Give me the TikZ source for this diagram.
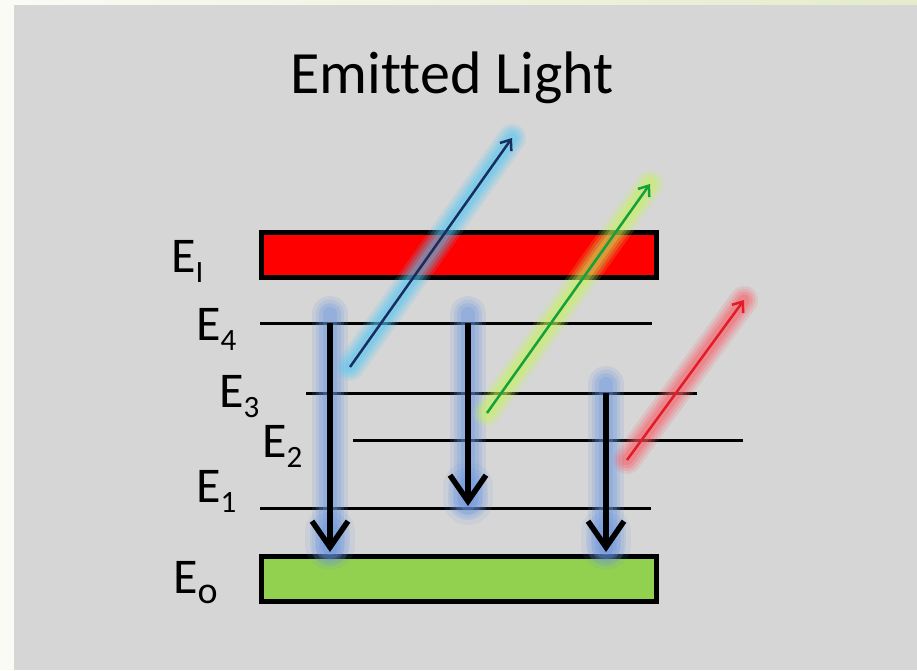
\documentclass[tikz,border=0pt]{standalone}
\usepackage{fontspec}
\setmainfont{Carlito}[Ligatures=NoCommon]
\usetikzlibrary{arrows.meta}
\definecolor{panel}{RGB}{214,214,214}
\definecolor{edgewhite}{RGB}{250,251,245}
\definecolor{edgegreen}{RGB}{228,236,204}
\definecolor{boxred}{RGB}{255,0,0}
\definecolor{boxgreen}{RGB}{146,208,80}
\definecolor{glowblue}{RGB}{105,150,225}
\definecolor{glowcyan}{RGB}{80,200,245}
\definecolor{glowlime}{RGB}{200,245,90}
\definecolor{glowpink}{RGB}{250,90,100}
\definecolor{rayblue}{RGB}{25,45,95}
\definecolor{raygreen}{RGB}{20,160,60}
\definecolor{rayred}{RGB}{225,30,40}
\newcommand\myglow[4]{%
  \foreach \f/\o in {1/0.14,0.8/0.18,0.6/0.22,0.4/0.26}{%
    \draw[#1, line width=\f*#2, opacity=#4*\o, line cap=round] #3;}}
\newcommand\lev[2]{{\fontsize{50}{50}\selectfont E}\raisebox{-#2pt}{\fontsize{31}{31}\selectfont #1}}
\begin{document}
\begin{tikzpicture}[x=1pt,y=-1pt,
  levelline/.style={line width=3pt, black},
  energybox/.style={line width=5pt, draw=black},
  decay/.style={line width=5.5pt, black, -{Straight Barb[length=26pt,width=36pt]}},
  ray/.style={line width=2.5pt, -{Straight Barb[length=9pt,width=14pt]}},
  lbl/.style={inner sep=0pt, anchor=base west}]
% background
\fill[edgewhite] (0,0) rectangle (917,670);
\shade[left color=edgewhite, right color=edgegreen] (0,0) rectangle (917,5);
\fill[panel] (14,5) rectangle (917,670);
\useasboundingbox (0,0) rectangle (917,670);
% title
\node[inner sep=0pt, anchor=base] (title) at (452,93) {\fontsize{60}{60}\selectfont Emitted Light};
% boxes
\node[energybox, fill=boxred, minimum width=395pt, minimum height=45pt, inner sep=0pt, anchor=north west] (EI) at (259,230) {};
\node[energybox, fill=boxgreen, minimum width=395pt, minimum height=45pt, inner sep=0pt, anchor=north west] (E0) at (259,554) {};
% level coordinates
\coordinate (e4l) at (260,323); \coordinate (e4r) at (652,323);
\coordinate (e3l) at (306,393); \coordinate (e3r) at (697,393);
\coordinate (e2l) at (353,440); \coordinate (e2r) at (743,440);
\coordinate (e1l) at (260,508); \coordinate (e1r) at (651,508);
\draw[levelline] (e4l) -- (e4r);
\draw[levelline] (e3l) -- (e3r);
\draw[levelline] (e2l) -- (e2r);
\draw[levelline] (e1l) -- (e1r);
% decay arrow coordinates
\coordinate (d1s) at (330,323); \coordinate (d1e) at (330,552);
\coordinate (d2s) at (468,323); \coordinate (d2e) at (468,506);
\coordinate (d3s) at (606,393); \coordinate (d3e) at (606,552);
% ray coordinates
\coordinate (b1s) at (350,367); \coordinate (b1e) at (512,138);
\coordinate (g1s) at (487,413); \coordinate (g1e) at (650,184);
\coordinate (r1s) at (627,460); \coordinate (r1e) at (744,300);
% glows
\myglow{glowblue}{36}{(330,314) -- (330,548)}{1}
\myglow{glowblue}{36}{(468,314) -- (468,500)}{1}
\myglow{glowblue}{36}{(606,384) -- (606,548)}{1}
\myglow{glowblue}{50}{(330,532) -- (330,545)}{0.8}
\myglow{glowblue}{50}{(468,487) -- (468,500)}{0.8}
\myglow{glowblue}{50}{(606,532) -- (606,545)}{0.8}
\myglow{glowcyan}{28}{(b1s) -- (b1e)}{1.1}
\myglow{glowlime}{28}{(g1s) -- (g1e)}{1.1}
\myglow{glowpink}{28}{(r1s) -- (r1e)}{1.1}
% decay arrows
\draw[decay] (d1s) -- (d1e);
\draw[decay] (d2s) -- (d2e);
\draw[decay] (d3s) -- (d3e);
% rays
\draw[ray, rayblue] (b1s) -- (b1e);
\draw[ray, raygreen] (g1s) -- (g1e);
\draw[ray, rayred] (r1s) -- (r1e);
% labels
\node[lbl] (lI) at (171,272) {\lev{I}{10}};
\node[lbl] (l4) at (196,340) {\lev{4}{10}};
\node[lbl] (l3) at (219,407) {\lev{3}{10}};
\node[lbl] (l2) at (262,457) {\lev{2}{10}};
\node[lbl] (l1) at (196,502) {\lev{1}{10}};
\node[lbl] (lo) at (173,593) {{\fontsize{50}{50}\selectfont E}\raisebox{-10pt}{\fontsize{38}{38}\selectfont o}};
\end{tikzpicture}
\end{document}
